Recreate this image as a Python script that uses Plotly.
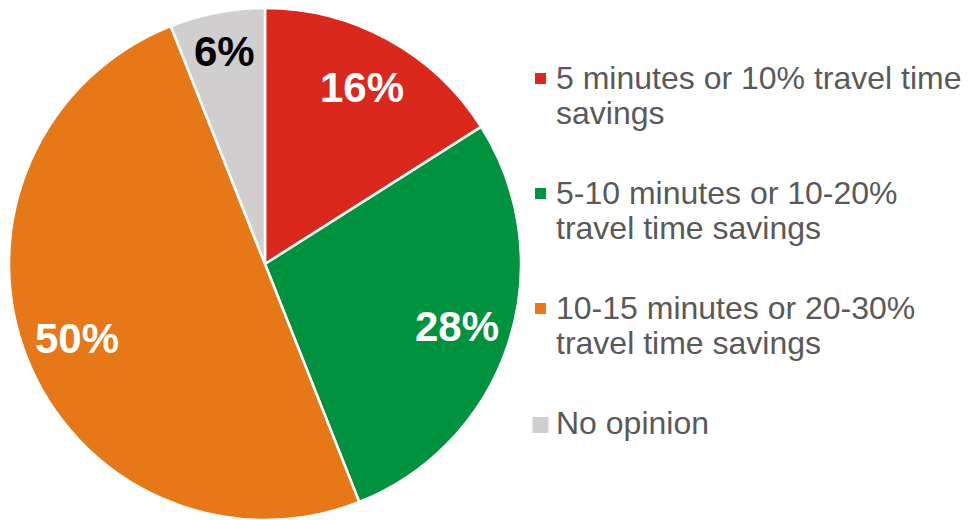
import math
import plotly.graph_objects as go

# Survey responses: acceptable travel-time savings
categories = [
    "5 minutes or 10% travel time savings",
    "5-10 minutes or 10-20% travel time savings",
    "10-15 minutes or 20-30% travel time savings",
    "No opinion",
]
legend_lines = [
    ["5 minutes or 10% travel time", "savings"],
    ["5-10 minutes or 10-20%", "travel time savings"],
    ["10-15 minutes or 20-30%", "travel time savings"],
    ["No opinion"],
]
shares = [16, 28, 50, 6]
colors = ["#DA291C", "#00923F", "#E67817", "#D0CECE"]
label_colors = ["#FFFFFF", "#FFFFFF", "#FFFFFF", "#000000"]

FONT = "Liberation Sans, Arial, sans-serif"
W, H = 976, 520
cx, cy, R = 265, 265, 257  # pie centre and radius in pixels

fig = go.Figure(
    go.Pie(
        labels=categories,
        values=shares,
        sort=False,
        direction="clockwise",
        rotation=0,
        marker=dict(colors=colors, line=dict(color="#FFFFFF", width=2.5)),
        textinfo="none",
        hoverinfo="label+percent",
        domain=dict(x=[(cx - R) / W, (cx + R) / W],
                    y=[max(0, 1 - (cy + R) / H), 1 - (cy - R) / H]),
        showlegend=False,
    )
)

annotations = []
shapes = []

# Percentage labels placed at the middle angle of each slice
total = sum(shares)
cum = 0
for v, col in zip(shares, label_colors):
    mid = (cum + v / 2) / total * 2 * math.pi
    cum += v
    rf = 0.785 if v >= 10 else 0.84
    px = cx + rf * R * math.sin(mid)
    py = cy - 1 - rf * R * math.cos(mid)
    annotations.append(dict(
        x=px / W, y=1 - py / H, xref="paper", yref="paper",
        text=f"<b>{v}%</b>", showarrow=False,
        xanchor="center", yanchor="middle",
        font=dict(family=FONT, size=42, color=col),
    ))

# Legend drawn to the right of the pie
text_x = 554
first_base = 89
entry_pitch = 115
line_gap = 35
marker_sizes = [11, 11, 11, 16]
for i, lines in enumerate(legend_lines):
    base = first_base + i * entry_pitch
    for j, line in enumerate(lines):
        b = base + j * line_gap
        annotations.append(dict(
            x=text_x / W, y=1 - (b - 11) / H, xref="paper", yref="paper",
            text=line, showarrow=False, xanchor="left", yanchor="middle",
            font=dict(family=FONT, size=32, color="#595959"),
        ))
    s = marker_sizes[i]
    mcx, mcy = 540.5, base - (10.5 if s < 14 else 9)
    shapes.append(dict(
        type="rect", xref="paper", yref="paper",
        x0=(mcx - s / 2) / W, x1=(mcx + s / 2) / W,
        y0=1 - (mcy + s / 2) / H, y1=1 - (mcy - s / 2) / H,
        fillcolor=colors[i], line=dict(width=0),
    ))

fig.update_layout(
    width=W, height=H,
    margin=dict(l=0, r=0, t=0, b=0),
    paper_bgcolor="#FFFFFF",
    plot_bgcolor="#FFFFFF",
    annotations=annotations,
    shapes=shapes,
)

fig.write_html("out.html")
